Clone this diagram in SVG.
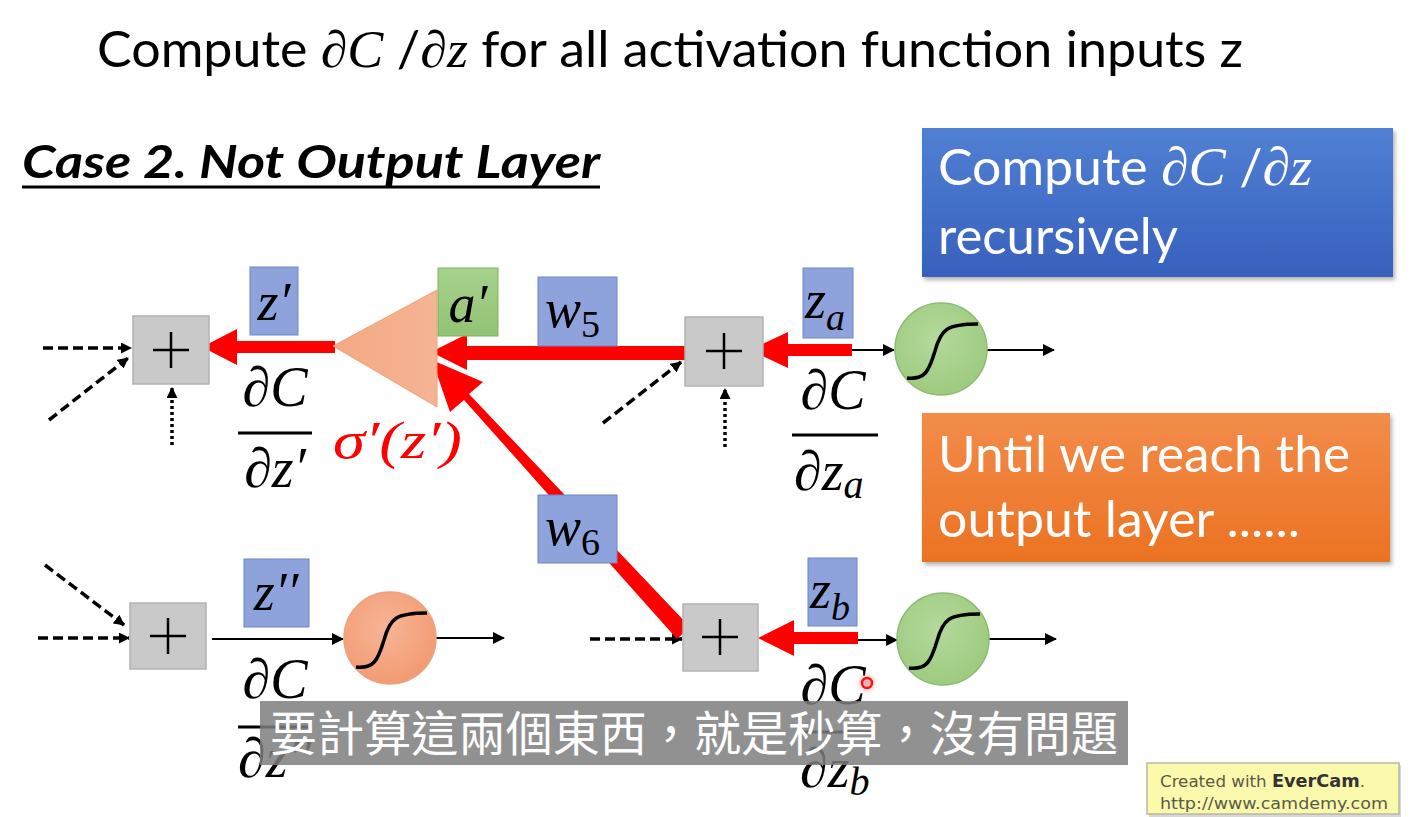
<svg xmlns="http://www.w3.org/2000/svg" width="1411" height="817" viewBox="0 0 1411 817">
  <defs>
    <style>
      .title { font-family: Lato, "Open Sans", sans-serif; fill: #000; }
      .math { font-family: "Liberation Serif", "DejaVu Serif", serif; font-style: italic; }
      .up { font-style: normal; }
      .plus { stroke: #000; stroke-width: 2.5; }
      .pbox { fill: #C9C9C9; stroke: #B3B3B3; stroke-width: 1.5; }
      .lbl { fill: #8EA3DC; stroke: #6F86C6; stroke-width: 1; }
      .dash { stroke: #000; stroke-width: 3.5; stroke-dasharray: 10 5; fill: none; }
      .dot { stroke: #000; stroke-width: 3.5; stroke-dasharray: 3 3; fill: none; }
      .thin { stroke: #000; stroke-width: 2; fill: none; }
      .red { fill: #FF0000; }
      .bar { stroke: #000; stroke-width: 3; }
      .sig { stroke: #000; stroke-width: 3.5; fill: none; }
      .boxtext { font-family: Lato, "Open Sans", sans-serif; fill: #FFFFFF; font-size: 50px; }
    </style>
    <marker id="ah" markerWidth="11" markerHeight="11" refX="10" refY="5.5" orient="auto" markerUnits="userSpaceOnUse">
      <path d="M0,0 L11,5.5 L0,11 Z" fill="#000"/>
    </marker>
    <marker id="ahs" markerWidth="12" markerHeight="12" refX="11" refY="6" orient="auto" markerUnits="userSpaceOnUse">
      <path d="M0,0 L12,6 L0,12 Z" fill="#000"/>
    </marker>
    <linearGradient id="blueG" x1="0" y1="0" x2="0" y2="1">
      <stop offset="0" stop-color="#5080D4"/>
      <stop offset="1" stop-color="#3760BD"/>
    </linearGradient>
    <linearGradient id="orangeG" x1="0" y1="0" x2="0" y2="1">
      <stop offset="0" stop-color="#F28C4A"/>
      <stop offset="1" stop-color="#EC7222"/>
    </linearGradient>
    <radialGradient id="greenG" cx="0.45" cy="0.4" r="0.6">
      <stop offset="0" stop-color="#B5D99C"/>
      <stop offset="1" stop-color="#9DCB7F"/>
    </radialGradient>
    <radialGradient id="salmonG" cx="0.45" cy="0.4" r="0.6">
      <stop offset="0" stop-color="#F7B595"/>
      <stop offset="1" stop-color="#F29B74"/>
    </radialGradient>
    <linearGradient id="triG" x1="0" y1="0" x2="1" y2="0">
      <stop offset="0" stop-color="#F5A884"/>
      <stop offset="1" stop-color="#F4B493"/>
    </linearGradient>
    <linearGradient id="greenBox" x1="0" y1="0" x2="0" y2="1">
      <stop offset="0" stop-color="#A6D28C"/>
      <stop offset="1" stop-color="#92C374"/>
    </linearGradient>
    <filter id="shadow" x="-5%" y="-5%" width="110%" height="115%">
      <feDropShadow dx="2" dy="3" stdDeviation="2" flood-color="#000" flood-opacity="0.3"/>
    </filter>
    <radialGradient id="glow" cx="0.5" cy="0.5" r="0.5">
      <stop offset="0" stop-color="#FF6060" stop-opacity="0.6"/>
      <stop offset="1" stop-color="#FF8080" stop-opacity="0"/>
    </radialGradient>
  </defs>

  <rect width="1411" height="817" fill="#FFFFFF"/>

  <!-- heading -->
  <text class="title" x="97" y="67" font-size="50" textLength="1146" lengthAdjust="spacingAndGlyphs">Compute <tspan class="math" font-size="52">∂C</tspan> /<tspan class="math" font-size="52">∂z</tspan> for all activation function inputs z</text>

  <text class="title" x="22" y="178" font-size="46" font-weight="bold" font-style="italic" textLength="578" lengthAdjust="spacingAndGlyphs">Case 2. Not Output Layer</text>
  <line x1="22" y1="187" x2="600" y2="187" stroke="#000" stroke-width="3"/>

  <!-- callout boxes -->
  <g id="box-recursive">
    <rect x="922" y="128" width="471" height="149" fill="url(#blueG)" filter="url(#shadow)"/>
    <text class="boxtext" x="938" y="185" textLength="374" lengthAdjust="spacingAndGlyphs">Compute <tspan class="math" font-size="54">∂C</tspan> /<tspan class="math" font-size="54">∂z</tspan></text>
    <text class="boxtext" x="938" y="254" textLength="240" lengthAdjust="spacingAndGlyphs">recursively</text>
  </g>
  <g id="box-until">
    <rect x="922" y="413" width="468" height="149" fill="url(#orangeG)" filter="url(#shadow)"/>
    <text class="boxtext" x="938" y="472" textLength="412" lengthAdjust="spacingAndGlyphs">Until we reach the</text>
    <text class="boxtext" x="938" y="537" textLength="362" lengthAdjust="spacingAndGlyphs">output layer ......</text>
  </g>

  <!-- connectors -->
  <g id="connectors">
    <!-- dashed / dotted inputs -->
    <line class="dash" x1="43" y1="348" x2="131" y2="348" marker-end="url(#ah)"/>
    <line class="dash" x1="49" y1="420" x2="128" y2="358" marker-end="url(#ah)"/>
    <line class="dot" x1="172" y1="445" x2="172" y2="388" marker-end="url(#ah)"/>
    <line class="dash" x1="603" y1="423" x2="681" y2="362" marker-end="url(#ah)"/>
    <line class="dot" x1="725" y1="447" x2="725" y2="389" marker-end="url(#ah)"/>
    <line class="dash" x1="38" y1="638" x2="129" y2="638" marker-end="url(#ah)"/>
    <line class="dash" x1="45" y1="565" x2="124" y2="625" marker-end="url(#ah)"/>
    <line class="dash" x1="590" y1="639" x2="682" y2="639" marker-end="url(#ah)"/>

    <!-- forward solid arrows -->
    <line class="thin" x1="852" y1="350" x2="894" y2="350" marker-end="url(#ahs)"/>
    <line class="thin" x1="987" y1="350" x2="1054" y2="350" marker-end="url(#ahs)"/>
    <line class="thin" x1="858" y1="640" x2="897" y2="640" marker-end="url(#ahs)"/>
    <line class="thin" x1="988" y1="639" x2="1056" y2="639" marker-end="url(#ahs)"/>
    <line class="thin" x1="212" y1="639" x2="343" y2="639" marker-end="url(#ahs)"/>
    <line class="thin" x1="436" y1="638" x2="504" y2="638" marker-end="url(#ahs)"/>

    <!-- backward (red) paths -->
    <path class="red" d="M852,344 L788,344 L788,332 L750,350 L788,368 L788,356 L852,356 Z"/>
    <path class="red" d="M858,632 L794,632 L794,620 L758,638 L794,656 L794,644 L858,644 Z"/>
    <path class="red" d="M685,346 L467,346 L467,334 L431,352 L467,370 L467,360 L685,360 Z"/>
    <path class="red" d="M690,627 L677,639 L464,400 L450,412 L432,360 L483,382 L469,394 Z"/>
    <path class="red" d="M335,341 L237,341 L237,329 L202,347 L237,365 L237,353 L335,353 Z"/>
  </g>

  <!-- sigma' amplifier -->
  <g id="node-amp">
    <polygon points="333,346 437,290 437,407" fill="url(#triG)" stroke="#F0A07A" stroke-width="1"/>
    <text class="math" x="333" y="458" font-size="52" fill="#FF0000" textLength="129" lengthAdjust="spacingAndGlyphs">σ′(z′)</text>
  </g>

  <!-- summation nodes -->
  <g id="node-sum-tl">
    <rect class="pbox" x="133" y="316" width="76" height="68"/>
    <line class="plus" x1="153" y1="350" x2="189" y2="350"/>
    <line class="plus" x1="171" y1="332" x2="171" y2="368"/>
  </g>
  <g id="node-sum-tr">
    <rect class="pbox" x="685" y="317" width="78" height="69"/>
    <line class="plus" x1="706" y1="351" x2="742" y2="351"/>
    <line class="plus" x1="724" y1="333" x2="724" y2="369"/>
  </g>
  <g id="node-sum-bl">
    <rect class="pbox" x="130" y="603" width="76" height="66"/>
    <line class="plus" x1="150" y1="636" x2="186" y2="636"/>
    <line class="plus" x1="168" y1="618" x2="168" y2="654"/>
  </g>
  <g id="node-sum-br">
    <rect class="pbox" x="683" y="604" width="75" height="67"/>
    <line class="plus" x1="702" y1="637" x2="738" y2="637"/>
    <line class="plus" x1="720" y1="619" x2="720" y2="655"/>
  </g>

  <!-- activation nodes -->
  <g id="node-act-a" transform="translate(941,349)">
    <circle r="46" fill="url(#greenG)" stroke="#8DBB70" stroke-width="1.5"/>
    <path class="sig" d="M-34,29 C-16,31 -12,22 -6,2 C0,-20 6,-25 37,-25"/>
  </g>
  <g id="node-act-b" transform="translate(943,639)">
    <circle r="46" fill="url(#greenG)" stroke="#8DBB70" stroke-width="1.5"/>
    <path class="sig" d="M-34,29 C-16,31 -12,22 -6,2 C0,-20 6,-25 37,-25"/>
  </g>
  <g id="node-act-z2" transform="translate(390,638)">
    <circle r="46" fill="url(#salmonG)" stroke="#EFA07F" stroke-width="1.5"/>
    <path class="sig" d="M-34,29 C-16,31 -12,22 -6,2 C0,-20 6,-25 37,-25"/>
  </g>

  <!-- variable / weight labels -->
  <g id="label-z1">
    <rect class="lbl" x="250" y="267" width="48" height="68"/>
    <text class="math" x="274" y="320" font-size="54" text-anchor="middle">z′</text>
  </g>
  <g id="label-a1">
    <rect x="438" y="268" width="60" height="68" fill="url(#greenBox)" stroke="#7FB261" stroke-width="1"/>
    <text class="math" x="468" y="322" font-size="54" text-anchor="middle">a′</text>
  </g>
  <g id="label-w5">
    <rect class="lbl" x="538" y="277" width="79" height="69"/>
    <text class="math" x="545" y="327" font-size="54">w<tspan class="up" font-size="38" dy="10">5</tspan></text>
  </g>
  <g id="label-w6">
    <rect class="lbl" x="538" y="495" width="79" height="68"/>
    <text class="math" x="545" y="545" font-size="54">w<tspan class="up" font-size="38" dy="10">6</tspan></text>
  </g>
  <g id="label-za">
    <rect class="lbl" x="803" y="268" width="50" height="70"/>
    <text class="math" x="805" y="318" font-size="54">z<tspan font-size="38" dy="12">a</tspan></text>
  </g>
  <g id="label-z2">
    <rect class="lbl" x="244" y="559" width="65" height="68"/>
    <text class="math" x="276" y="610" font-size="54" text-anchor="middle">z′′</text>
  </g>
  <g id="label-zb">
    <rect class="lbl" x="808" y="558" width="49" height="68"/>
    <text class="math" x="810" y="608" font-size="54">z<tspan font-size="38" dy="12">b</tspan></text>
  </g>

  <!-- partial derivative fractions -->
  <g id="frac-z1">
    <text class="math" x="275" y="406" font-size="56" text-anchor="middle">∂C</text>
    <line class="bar" x1="238" y1="433" x2="312" y2="433"/>
    <text class="math" x="275" y="487" font-size="56" text-anchor="middle">∂z′</text>
  </g>
  <g id="frac-za">
    <text class="math" x="833" y="409" font-size="56" text-anchor="middle">∂C</text>
    <line class="bar" x1="792" y1="435" x2="878" y2="435"/>
    <text class="math" x="794" y="490" font-size="56">∂z<tspan font-size="40" dy="8">a</tspan></text>
  </g>
  <g id="frac-z2">
    <text class="math" x="275" y="698" font-size="56" text-anchor="middle">∂C</text>
    <line class="bar" x1="238" y1="727" x2="312" y2="727"/>
    <text class="math" x="275" y="777" font-size="56" text-anchor="middle">∂z′′</text>
  </g>
  <g id="frac-zb">
    <text class="math" x="833" y="704" font-size="56" text-anchor="middle">∂C</text>
    <line class="bar" x1="800" y1="732" x2="873" y2="732"/>
    <text class="math" x="800" y="787" font-size="56">∂z<tspan font-size="40" dy="8">b</tspan></text>
  </g>

  <!-- pointer highlight -->
  <circle cx="867" cy="683" r="11" fill="url(#glow)"/>
  <circle cx="867" cy="683" r="5" fill="none" stroke="#FF1010" stroke-width="2.5"/>

  <!-- caption strip -->
  <rect x="260" y="701" width="868" height="64" fill="#7E7E7E" fill-opacity="0.85"/>
  <text x="270" y="751" font-family="'Noto Sans CJK TC', 'Noto Sans CJK SC', sans-serif" font-size="48" fill="#FFFFFF" textLength="848" lengthAdjust="spacingAndGlyphs">要計算這兩個東西，就是秒算，沒有問題</text>

  <!-- recorder badge -->
  <rect x="1149" y="765" width="252" height="52" fill="#B0B0B0" opacity="0.5"/>
  <rect x="1147" y="763" width="252" height="51" fill="#FBF9AB" stroke="#B8B8A0" stroke-width="1.5"/>
  <text x="1160" y="787" font-family="'DejaVu Sans', sans-serif" font-size="16" fill="#5A5A4A" textLength="205" lengthAdjust="spacingAndGlyphs">Created with <tspan font-weight="bold" font-size="17" fill="#333">EverCam</tspan>.</text>
  <text x="1160" y="809" font-family="'DejaVu Sans', sans-serif" font-size="16" fill="#5A5A4A" textLength="228" lengthAdjust="spacingAndGlyphs">http://www.camdemy.com</text>
</svg>
